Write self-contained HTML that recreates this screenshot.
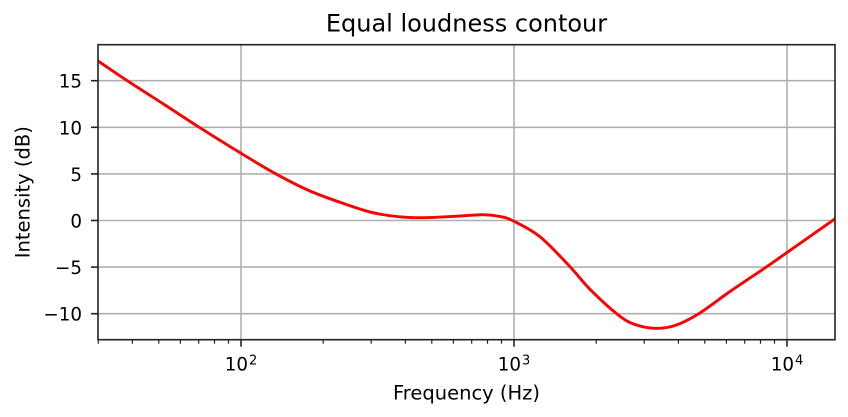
<!DOCTYPE html>
<html>
<head>
<meta charset="utf-8">
<style>
html,body{margin:0;padding:0;background:#fff;}
svg{display:block;}
text{font-family:"DejaVu Sans","Liberation Sans",sans-serif;fill:#000;}
</style>
</head>
<body>
<svg width="848" height="417" viewBox="0 0 848 417" xmlns="http://www.w3.org/2000/svg">
<defs>
<clipPath id="ax"><rect x="98" y="44.7" width="737" height="295"/></clipPath>
</defs>
<rect x="0" y="0" width="848" height="417" fill="#fff"/>
<!-- grid -->
<g stroke="#b0b0b0" stroke-width="1.6">
<line x1="241" y1="44.7" x2="241" y2="339.7"/>
<line x1="514" y1="44.7" x2="514" y2="339.7"/>
<line x1="787" y1="44.7" x2="787" y2="339.7"/>
<line x1="98" y1="80.7" x2="835" y2="80.7"/>
<line x1="98" y1="127.3" x2="835" y2="127.3"/>
<line x1="98" y1="173.9" x2="835" y2="173.9"/>
<line x1="98" y1="220.5" x2="835" y2="220.5"/>
<line x1="98" y1="267.1" x2="835" y2="267.1"/>
<line x1="98" y1="313.7" x2="835" y2="313.7"/>
</g>
<!-- curve -->
<path clip-path="url(#ax)" fill="none" stroke="#ff0000" stroke-width="2.9" stroke-linejoin="round"
d="M 96.5,60 L 98,61
C 108,67.73 116.83,73.87 128,81.2
C 139.17,88.53 153.28,97.42 165,105
C 176.72,112.58 185.63,118.65 198.3,126.7
C 210.97,134.75 227.93,145.37 241,153.3
C 254.07,161.23 265.2,168.02 276.7,174.3
C 288.2,180.58 298.62,186.05 310,191
C 321.38,195.95 334.5,200.38 345,204
C 355.5,207.62 363.83,210.57 373,212.7
C 382.17,214.83 391.67,215.97 400,216.8
C 408.33,217.63 413.83,217.78 423,217.7
C 432.17,217.62 445,216.8 455,216.3
C 465,215.8 475.5,214.67 483,214.7
C 490.5,214.73 494.92,215.45 500,216.5
C 505.08,217.55 506.83,217.63 513.5,221
C 520.17,224.37 530.58,229.08 540,236.7
C 549.42,244.32 561.67,257.93 570,266.7
C 578.33,275.47 581.95,281.25 590,289.3
C 598.05,297.35 610.8,309.13 618.3,315
C 625.8,320.87 628.88,322.28 635,324.5
C 641.12,326.72 648.33,328.13 655,328.3
C 661.67,328.47 667.78,327.88 675,325.5
C 682.22,323.12 689.13,319.67 698.3,314
C 707.47,308.33 718.6,299.38 730,291.5
C 741.4,283.62 757.15,273.23 766.7,266.7
C 776.25,260.17 775.92,260.28 787.3,252.3
C 798.68,244.32 819.1,229.97 835,218.8
L 837,217.4"/>
<!-- spines -->
<rect x="98" y="44.7" width="737" height="295" fill="none" stroke="#222" stroke-width="1.6"/>
<!-- y ticks -->
<g stroke="#222" stroke-width="1.6">
<line x1="91" y1="80.7" x2="98" y2="80.7"/>
<line x1="91" y1="127.3" x2="98" y2="127.3"/>
<line x1="91" y1="173.9" x2="98" y2="173.9"/>
<line x1="91" y1="220.5" x2="98" y2="220.5"/>
<line x1="91" y1="267.1" x2="98" y2="267.1"/>
<line x1="91" y1="313.7" x2="98" y2="313.7"/>
</g>
<!-- x major ticks -->
<g stroke="#222" stroke-width="1.6">
<line x1="241" y1="339.7" x2="241" y2="346.7"/>
<line x1="514" y1="339.7" x2="514" y2="346.7"/>
<line x1="787" y1="339.7" x2="787" y2="346.7"/>
</g>
<!-- x minor ticks -->
<g stroke="#222" stroke-width="1.2">
<line x1="98.3" y1="339.7" x2="98.3" y2="343.7"/>
<line x1="132.4" y1="339.7" x2="132.4" y2="343.7"/>
<line x1="158.8" y1="339.7" x2="158.8" y2="343.7"/>
<line x1="180.4" y1="339.7" x2="180.4" y2="343.7"/>
<line x1="198.7" y1="339.7" x2="198.7" y2="343.7"/>
<line x1="214.5" y1="339.7" x2="214.5" y2="343.7"/>
<line x1="228.5" y1="339.7" x2="228.5" y2="343.7"/>
<line x1="323.2" y1="339.7" x2="323.2" y2="343.7"/>
<line x1="371.2" y1="339.7" x2="371.2" y2="343.7"/>
<line x1="405.4" y1="339.7" x2="405.4" y2="343.7"/>
<line x1="431.8" y1="339.7" x2="431.8" y2="343.7"/>
<line x1="453.4" y1="339.7" x2="453.4" y2="343.7"/>
<line x1="471.7" y1="339.7" x2="471.7" y2="343.7"/>
<line x1="487.5" y1="339.7" x2="487.5" y2="343.7"/>
<line x1="501.5" y1="339.7" x2="501.5" y2="343.7"/>
<line x1="596.2" y1="339.7" x2="596.2" y2="343.7"/>
<line x1="644.2" y1="339.7" x2="644.2" y2="343.7"/>
<line x1="678.4" y1="339.7" x2="678.4" y2="343.7"/>
<line x1="704.8" y1="339.7" x2="704.8" y2="343.7"/>
<line x1="726.4" y1="339.7" x2="726.4" y2="343.7"/>
<line x1="744.7" y1="339.7" x2="744.7" y2="343.7"/>
<line x1="760.5" y1="339.7" x2="760.5" y2="343.7"/>
<line x1="774.5" y1="339.7" x2="774.5" y2="343.7"/>
</g>
<!-- y tick labels -->
<g font-size="18.3" text-anchor="end">
<text x="82" y="87.7">15</text>
<text x="82" y="134.3">10</text>
<text x="82" y="180.9">5</text>
<text x="82" y="227.5">0</text>
<text x="82" y="274.1">−5</text>
<text x="82" y="320.7">−10</text>
</g>
<!-- x tick labels -->
<g font-size="18.3">
<text x="248" y="370.7" text-anchor="end">10</text>
<text x="249" y="364.5" font-size="13">2</text>
<text x="521" y="370.7" text-anchor="end">10</text>
<text x="522" y="364.5" font-size="13">3</text>
<text x="794" y="370.7" text-anchor="end">10</text>
<text x="795" y="364.5" font-size="13">4</text>
</g>
<!-- title and axis labels -->
<text x="466.5" y="31.7" font-size="24" text-anchor="middle">Equal loudness contour</text>
<text x="466.5" y="399.5" font-size="19.5" text-anchor="middle">Frequency (Hz)</text>
<text transform="translate(29.5,192.2) rotate(-90)" font-size="19.5" text-anchor="middle">Intensity (dB)</text>
</svg>
</body>
</html>
